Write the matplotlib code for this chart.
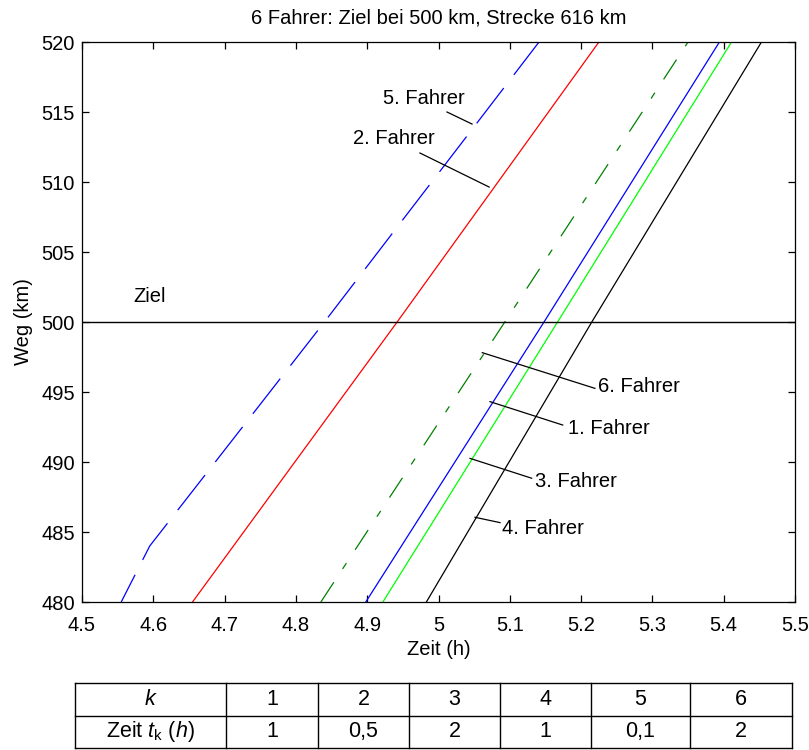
"""Weg-Zeit-Diagramm: sechs Fahrer kurz vor dem Ziel bei 500 km."""
import matplotlib
matplotlib.use("Agg")
import matplotlib.pyplot as plt

plt.rcParams["font.family"] = ["Liberation Sans", "DejaVu Sans"]
plt.rcParams["mathtext.fontset"] = "custom"
plt.rcParams["mathtext.rm"] = "Liberation Sans"
plt.rcParams["mathtext.it"] = "Liberation Sans:italic"
plt.rcParams["lines.scale_dashes"] = False

weg = [480, 500, 520]
zeit_1 = [4.898, 5.148, 5.394]
zeit_2 = [4.655, 4.942, 5.225]
zeit_3 = [4.922, 5.167, 5.411]
zeit_4 = [4.983, 5.215, 5.453]
weg_5 = [480, 484, 500, 520]
zeit_5 = [4.555, 4.595, 4.840, 5.141]
zeit_6 = [4.835, 5.093, 5.350]
ziel = 500

x_ticks = [4.5, 4.6, 4.7, 4.8, 4.9, 5, 5.1, 5.2, 5.3, 5.4, 5.5]
x_labels = ["4.5", "4.6", "4.7", "4.8", "4.9", "5", "5.1", "5.2", "5.3", "5.4", "5.5"]
y_ticks = [480, 485, 490, 495, 500, 505, 510, 515, 520]

# Tabelle der Pausenzeiten
tab_k = ["1", "2", "3", "4", "5", "6"]
tab_zeit = ["1", "0,5", "2", "1", "0,1", "2"]

FS = 14.5
W, H = 809, 750

fig = plt.figure(figsize=(W / 100, H / 100), dpi=100)
ax = fig.add_axes([82 / W, (H - 602) / H, 713 / W, 560 / H])

ax.plot(zeit_5, weg_5, color=(0, 0, 1), lw=0.9, linestyle=(10, (32, 12)))
ax.plot(zeit_2, weg, color=(1, 0, 0), lw=0.9)
ax.plot(zeit_6, weg, color=(0, 0.5, 0), lw=0.9, linestyle=(0, (17, 11.5, 5, 11.5)))
ax.plot(zeit_1, weg, color=(0, 0, 1), lw=0.9)
ax.plot(zeit_3, weg, color=(0, 1, 0), lw=0.9)
ax.plot(zeit_4, weg, color="black", lw=0.9)
ax.axhline(ziel, color="black", lw=1.0)

ax.set_xlim(4.5, 5.5)
ax.set_ylim(480, 520)
ax.set_xticks(x_ticks)
ax.set_xticklabels(x_labels)
ax.set_yticks(y_ticks)
ax.tick_params(direction="in", top=True, right=True, length=5, width=0.9,
               labelsize=FS)
ax.tick_params(axis="x", pad=10)
ax.tick_params(axis="y", pad=5)
for spine in ax.spines.values():
    spine.set_linewidth(0.9)

ax.set_xlabel("Zeit (h)", fontsize=FS, labelpad=4)
ax.set_ylabel("Weg (km)", fontsize=FS, labelpad=6)
ax.set_title("6 Fahrer: Ziel bei 500 km, Strecke 616 km", fontsize=FS, pad=13)

ax.text(4.5715, 501.8, "Ziel", fontsize=FS, ha="left", va="center")

# Beschriftungen mit Hinweislinien
notes = [
    ("5. Fahrer", (5.047, 514.14), (5.0119, 515.0), (4.922, 516.0)),
    ("2. Fahrer", (5.071, 509.64), (4.974, 512.07), (4.880, 513.14)),
    ("6. Fahrer", (5.0614, 497.81), (5.2194, 495.26), (5.224, 495.38)),
    ("1. Fahrer", (5.0722, 494.31), (5.1742, 492.64), (5.182, 492.36)),
    ("3. Fahrer", (5.0442, 490.26), (5.1307, 488.84), (5.135, 488.6)),
    ("4. Fahrer", (5.0512, 486.05), (5.0863, 485.67), (5.0886, 485.26)),
]
for label, p0, p1, ptext in notes:
    ax.plot([p0[0], p1[0]], [p0[1], p1[1]], color="black", lw=0.9)
    ax.text(ptext[0], ptext[1], label, fontsize=FS, ha="left", va="center")

# Tabelle
edges = [75, 226, 318, 409, 500, 591, 690, 792]
tab = fig.add_axes([edges[0] / W, 2 / H, (edges[-1] - edges[0]) / W, 65 / H])
tab.set_xlim(edges[0], edges[-1])
tab.set_ylim(0, 2)
tab.axis("off")
for e in edges:
    tab.plot([e, e], [0, 2], color="black", lw=1.0, clip_on=False)
for yy in (0, 1, 2):
    tab.plot([edges[0], edges[-1]], [yy, yy], color="black", lw=1.0, clip_on=False)
rows = [["$k$"] + tab_k, ["Zeit $t_{\\mathrm{k}}$ ($h$)"] + tab_zeit]
for r, row in enumerate(rows):
    for c, val in enumerate(row):
        tab.text((edges[c] + edges[c + 1]) / 2, 1.5 - r, val, fontsize=FS + 1,
                 ha="center", va="center")

fig.savefig("out.png", dpi=100, facecolor="white")
